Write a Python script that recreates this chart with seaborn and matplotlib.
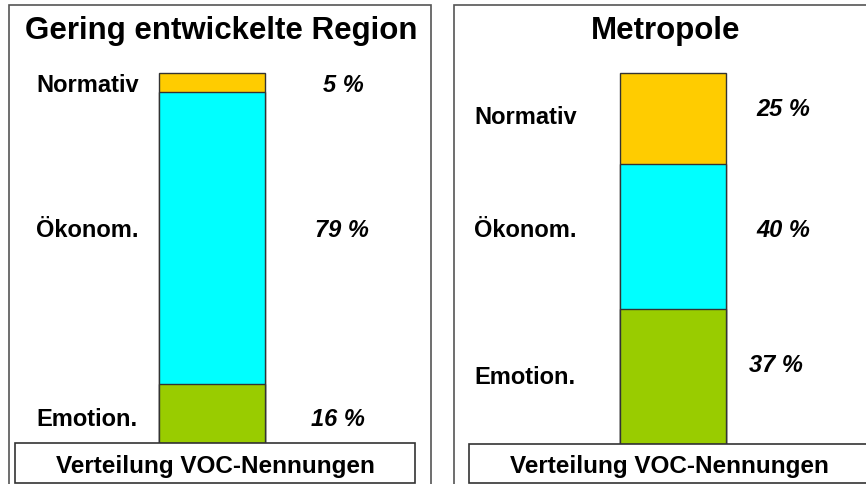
import matplotlib
matplotlib.use("Agg")
import matplotlib.pyplot as plt
import seaborn as sns
import pandas as pd
from matplotlib.patches import Rectangle

sns.set_theme(style="white")
plt.rcParams['font.family'] = ['Liberation Sans', 'DejaVu Sans']

titles = ["Gering entwickelte Region", "Metropole"]
categories = ["Normativ", "Ökonom.", "Emotion."]          # top -> bottom
values_region = [5, 79, 16]
values_metro = [25, 40, 37]
colors = {"Normativ": "#FFCC00", "Ökonom.": "#00FFFF", "Emotion.": "#99CC00"}
footer = "Verteilung VOC-Nennungen"

W, H = 866, 484
fig = plt.figure(figsize=(W / 100, H / 100), dpi=100)

def fx(px):
    return px / W

def fy(py):
    return 1 - py / H

panels = [
    dict(vals=values_region, box=(9, 5, 431, 490), bar=(159, 73, 265, 443),
         title_x=221, footer_box=(15, 443, 415, 483), footer_x=215,
         lab_x=36, lab_y=[86, 230, 420], pct_x=[343, 342, 338], pct_y=[86, 230, 420]),
    dict(vals=values_metro, box=(454, 5, 875, 490), bar=(620, 73, 726, 444),
         title_x=666, footer_box=(469, 444, 870, 483), footer_x=669,
         lab_x=474, lab_y=[118, 230, 377], pct_x=[783, 783, 776], pct_y=[109, 230, 366]),
]

for title, p in zip(titles, panels):
    x0, y0, x1, y1 = p["box"]
    fig.patches.append(Rectangle((fx(x0), fy(y1)), fx(x1) - fx(x0), fy(y0) - fy(y1),
                                 transform=fig.transFigure, fill=False,
                                 edgecolor="#555555", linewidth=1.2, zorder=0))
    bx0, by0, bx1, by1 = p["bar"]
    ax = fig.add_axes([fx(bx0), fy(by1), fx(bx1) - fx(bx0), fy(by0) - fy(by1)])
    vals = p["vals"]
    # stack from bottom: Emotion, Ökonom, Normativ -> draw cumulative heights largest first
    order_bottom_up = list(reversed(categories))
    vals_bottom_up = list(reversed(vals))
    cum = []
    s = 0
    for v in vals_bottom_up:
        s += v
        cum.append(s)
    for cat, h in reversed(list(zip(order_bottom_up, cum))):
        df = pd.DataFrame({"g": ["x"], "h": [h]})
        sns.barplot(data=df, x="g", y="h", ax=ax, color=colors[cat], saturation=1,
                    width=1.0, edgecolor="#333333", linewidth=1.0)
    ax.set_xlim(-0.5, 0.5)
    ax.set_ylim(0, sum(vals))
    ax.axis("off")
    for patch in ax.patches:
        patch.set_clip_on(False)

    fig.text(fx(p["title_x"]), fy(31), title, ha="center", va="center",
             fontsize=22.5, fontweight="bold", color="black")
    for cat, v, ly, px_, py_ in zip(categories, vals, p["lab_y"], p["pct_x"], p["pct_y"]):
        fig.text(fx(p["lab_x"]), fy(ly), cat, ha="left", va="center",
                 fontsize=17, fontweight="bold", color="black")
        fig.text(fx(px_), fy(py_), f"{v} %", ha="center", va="center",
                 fontsize=17, fontweight="bold", fontstyle="italic", color="black")

    f0, g0, f1, g1 = p["footer_box"]
    fig.patches.append(Rectangle((fx(f0), fy(g1)), fx(f1) - fx(f0), fy(g0) - fy(g1),
                                 transform=fig.transFigure, facecolor="white",
                                 edgecolor="#333333", linewidth=1.2, zorder=3))
    fig.text(fx(p["footer_x"]), fy(466), footer, ha="center", va="center",
             fontsize=17.5, fontweight="bold", color="black", zorder=4)

fig.savefig("out.png", dpi=100, facecolor="white")
